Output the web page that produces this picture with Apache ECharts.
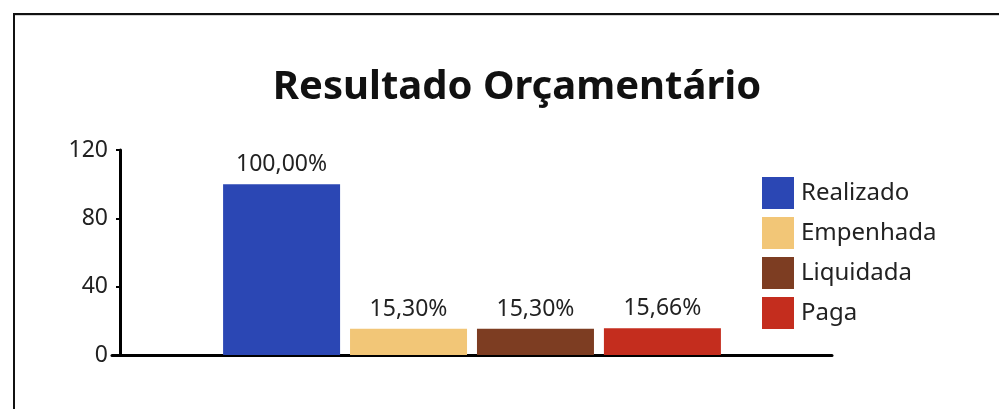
<!DOCTYPE html>
<html>
<head>
<meta charset="utf-8">
<script src="https://cdn.jsdelivr.net/npm/echarts@6/dist/echarts.min.js"></script>
<style>
  html, body { margin: 0; padding: 0; background: #fff; }
  #chart { width: 999px; height: 409px; }
</style>
</head>
<body>
<div id="chart"></div>
<script>
const seriesNames = ['Realizado', 'Empenhada', 'Liquidada', 'Paga'];
const seriesValues = [100, 15.30, 15.30, 15.66];
const seriesColors = ['#2b47b4', '#f2c677', '#7d3d22', '#c42d1e'];
const yTicks = [0, 40, 80, 120];

const chart = echarts.init(document.getElementById('chart'));

const font = '"Noto Sans", "Open Sans", sans-serif';

const series = seriesNames.map((name, i) => ({
  name: name,
  type: 'bar',
  data: [seriesValues[i]],
  barWidth: 117,
  barGap: '8.5%',
  itemStyle: { color: seriesColors[i] },
  label: {
    show: true,
    position: 'top',
    distance: 8,
    color: '#222',
    fontSize: 23,
    fontFamily: font,
    formatter: p => p.value.toFixed(2).replace('.', ',') + '%'
  }
}));

const option = {
  animation: false,
  title: {
    text: 'Resultado Orçamentário',
    left: 512,
    textAlign: 'center',
    top: 63,
    textStyle: { fontSize: 40, fontWeight: 'bold', color: '#111', fontFamily: font }
  },
  legend: {
    orient: 'vertical',
    left: 757,
    top: 172,
    itemWidth: 32,
    itemHeight: 32,
    itemGap: 8,
    icon: 'rect',
    textStyle: { fontSize: 24, color: '#222', fontFamily: font, padding: [3, 0, 0, 2] },
    data: seriesNames
  },
  grid: { left: 112, right: 167, top: 150, bottom: 54 },
  xAxis: {
    type: 'category',
    data: [''],
    axisLine: { lineStyle: { color: '#000', width: 3 } },
    axisTick: { show: false },
    axisLabel: { show: false }
  },
  yAxis: {
    type: 'value',
    min: yTicks[0],
    max: yTicks[yTicks.length - 1],
    interval: 40,
    offset: -8,
    axisLine: { show: true, lineStyle: { color: '#000', width: 3 } },
    axisTick: { show: true, length: 4, lineStyle: { color: '#000', width: 2 } },
    axisLabel: { fontSize: 23, color: '#222', fontFamily: font, margin: 12 },
    splitLine: { show: false }
  },
  graphic: [
    { type: 'line', shape: { x1: 13, y1: 15, x2: 999, y2: 15 }, style: { stroke: '#aaa', lineWidth: 1 } },
    { type: 'line', shape: { x1: 13, y1: 14, x2: 999, y2: 14 }, style: { stroke: '#111', lineWidth: 2 } },
    { type: 'line', shape: { x1: 14, y1: 13, x2: 14, y2: 409 }, style: { stroke: '#111', lineWidth: 2 } }
  ],
  series: series
};

chart.setOption(option);
</script>
</body>
</html>
